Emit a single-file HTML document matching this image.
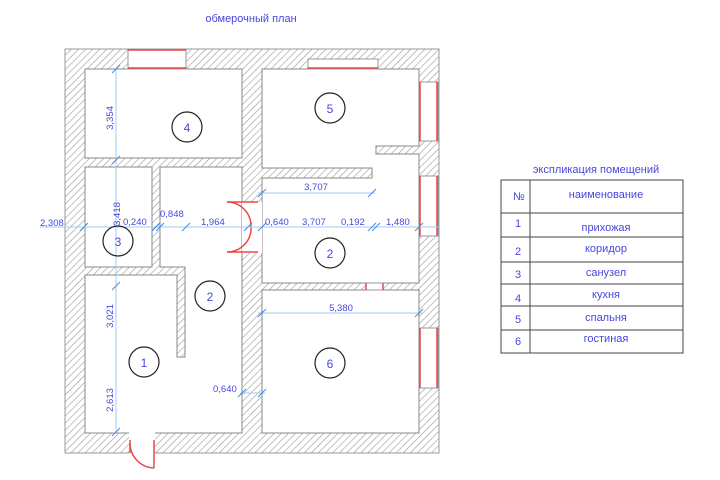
<!DOCTYPE html>
<html><head><meta charset="utf-8"><style>
html,body{margin:0;padding:0;background:#fff;width:720px;height:480px;overflow:hidden}
svg{display:block}
text{font-family:"Liberation Sans","DejaVu Sans",sans-serif;fill:#4646e0}
</style></head><body>
<svg width="720" height="480" viewBox="0 0 720 480">
<defs>
<pattern id="h" width="5" height="5" patternUnits="userSpaceOnUse" patternTransform="rotate(45)">
<rect width="5" height="5" fill="#fff"/><line x1="0" y1="0" x2="0" y2="5" stroke="#999" stroke-width="1.2"/>
</pattern>
</defs>
<text x="251" y="22" font-size="11" text-anchor="middle">обмерочный план</text>
<rect x="65" y="49" width="374" height="404" fill="url(#h)" stroke="#999"/>
<g fill="#fff" stroke="#888" stroke-width="1">
<rect x="85" y="69" width="157" height="89"/>
<path d="M262 69 H419 V146 H376 V154 H419 V283 H262 V178 H372 V168 H262 Z"/>
<rect x="85" y="167" width="67" height="100"/>
<path d="M160 167 H242 V433 H85 V275 H177 V357 H185 V267 H160 Z"/>
<rect x="262" y="290" width="157" height="143"/>
</g>
<g fill="#fff" stroke="none">
<rect x="242" y="202" width="20" height="51"/>
<rect x="129" y="432" width="26" height="22"/>
</g>
<g fill="#fff" stroke="#999">
<rect x="128" y="49" width="58" height="20"/>
<rect x="308" y="59" width="70" height="10"/>
<rect x="420" y="82" width="18" height="59"/>
<rect x="420" y="176" width="18" height="60"/>
<rect x="420" y="328" width="18" height="60"/>
<rect x="366" y="283" width="17" height="7"/>
</g>
<g stroke="#e84848" stroke-width="1.5" fill="none">
<line x1="128" y1="68" x2="186" y2="68"/><line x1="128" y1="50" x2="186" y2="50"/>
<line x1="308" y1="68" x2="378" y2="68"/>
<line x1="420" y1="82" x2="420" y2="141"/><line x1="437" y1="82" x2="437" y2="141"/>
<line x1="420" y1="176" x2="420" y2="236"/><line x1="437" y1="176" x2="437" y2="236"/>
<line x1="420" y1="328" x2="420" y2="388"/><line x1="437" y1="328" x2="437" y2="388"/>
<line x1="366" y1="283" x2="366" y2="290"/><line x1="383" y1="283" x2="383" y2="290"/>
<line x1="227" y1="202" x2="258" y2="202"/><line x1="227" y1="252" x2="258" y2="252"/>
<path d="M227 202 A24 24 0 0 1 251 226"/><path d="M251 226 A24 24 0 0 1 227 252"/>
<line x1="130" y1="440" x2="130" y2="453"/><line x1="154" y1="440" x2="154" y2="468"/>
<path d="M130 443 A25 25 0 0 0 154 468"/>
</g>
<g stroke="#9ccdf0" stroke-width="1">
<line x1="116" y1="69" x2="116" y2="433"/>
<line x1="40" y1="227" x2="440" y2="227"/>
<line x1="258" y1="193" x2="375" y2="193"/>
<line x1="258" y1="313" x2="423" y2="313"/>
<line x1="240" y1="393" x2="265" y2="393"/>
</g>
<g stroke="#4a8ae0" stroke-width="1">
<path d="M112 73 l8 -8 M112 164 l8 -8 M112 290 l8 -8 M112 436 l8 -8"/>
<path d="M80 231 l8 -8 M152 231 l8 -8 M156 231 l8 -8 M182 231 l8 -8 M244 231 l8 -8 M258 231 l8 -8 M368 231 l8 -8 M372 231 l8 -8 M415 231 l8 -8"/>
<path d="M258 197 l8 -8 M368 197 l8 -8 M258 317 l8 -8 M415 317 l8 -8 M238 397 l8 -8 M258 397 l8 -8"/>
</g>
<g font-size="9.5">
<text x="40" y="226">2,308</text>
<text x="120" y="214" transform="rotate(-90 120 214)" text-anchor="middle">3,418</text>
<text x="113" y="118" transform="rotate(-90 113 118)" text-anchor="middle">3,354</text>
<text x="113" y="316" transform="rotate(-90 113 316)" text-anchor="middle">3,021</text>
<text x="113" y="400" transform="rotate(-90 113 400)" text-anchor="middle">2,613</text>
<text x="123" y="225">0,240</text>
<text x="160" y="217">0,848</text>
<text x="201" y="225">1,964</text>
<text x="265" y="225">0,640</text>
<text x="302" y="225">3,707</text>
<text x="341" y="225">0,192</text>
<text x="386" y="225">1,480</text>
<text x="316" y="190" text-anchor="middle">3,707</text>
<text x="341" y="311" text-anchor="middle">5,380</text>
<text x="213" y="392">0,640</text>
</g>
<g fill="#fff" stroke="#222" stroke-width="1.2">
<circle cx="187" cy="127" r="15"/><circle cx="330" cy="108" r="15"/>
<circle cx="118" cy="241" r="15" fill="none"/><circle cx="330" cy="253" r="15"/>
<circle cx="210" cy="296" r="15"/><circle cx="144" cy="362" r="15"/>
<circle cx="330" cy="363" r="15"/>
</g>
<g font-size="12" text-anchor="middle">
<text x="187" y="132">4</text><text x="330" y="113">5</text><text x="118" y="246">3</text>
<text x="330" y="258">2</text><text x="210" y="301">2</text><text x="144" y="367">1</text><text x="330" y="368">6</text>
</g>
<text x="596" y="173" font-size="11" text-anchor="middle">экспликация помещений</text>
<g stroke="#444" stroke-width="1" fill="none">
<rect x="501" y="180" width="182" height="173"/>
<line x1="530" y1="180" x2="530" y2="353"/>
<line x1="501" y1="213" x2="683" y2="213"/>
<line x1="501" y1="237" x2="683" y2="237"/>
<line x1="501" y1="262" x2="683" y2="262"/>
<line x1="501" y1="284" x2="683" y2="284"/>
<line x1="501" y1="306" x2="683" y2="306"/>
<line x1="501" y1="330" x2="683" y2="330"/>
</g>
<g font-size="11">
<text x="513" y="200">№</text>
<text x="606" y="198" text-anchor="middle">наименование</text>
<text x="515" y="227">1</text><text x="606" y="231" text-anchor="middle">прихожая</text>
<text x="515" y="255">2</text><text x="606" y="252" text-anchor="middle">коридор</text>
<text x="515" y="278">3</text><text x="606" y="276" text-anchor="middle">санузел</text>
<text x="515" y="302">4</text><text x="606" y="298" text-anchor="middle">кухня</text>
<text x="515" y="323">5</text><text x="606" y="321" text-anchor="middle">спальня</text>
<text x="515" y="345">6</text><text x="606" y="342" text-anchor="middle">гостиная</text>
</g>
</svg>
</body></html>
